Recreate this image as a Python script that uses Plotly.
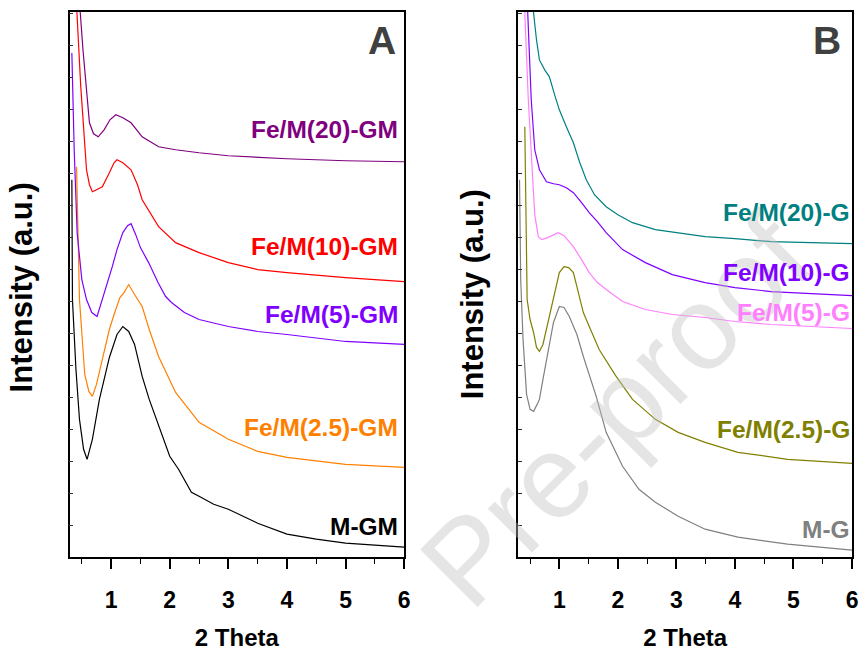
import plotly.graph_objects as go

# ---------------- Panel A data ----------------
a_names = ["M-GM", "Fe/M(2.5)-GM", "Fe/M(5)-GM", "Fe/M(10)-GM", "Fe/M(20)-GM"]
a_colors = ["#000000", "#ff8000", "#8000ff", "#ff0000", "#800080"]

a_mgm_x = [0.33, 0.34, 0.40, 0.46, 0.53, 0.59, 0.68, 0.80, 0.97, 1.10, 1.20, 1.30, 1.40, 1.53, 1.65,
           1.81, 2.0, 2.15, 2.37, 2.5, 2.75, 3.0, 3.5, 4.0, 4.5, 5.0, 5.5, 6.0]
a_mgm_y = [378, 258, 188, 138, 108, 98, 118, 158, 200, 223, 231, 226, 213, 181, 158,
           131, 101, 88, 65, 61, 53, 48, 34, 23, 18, 14, 12, 10]

a_25_x = [0.41, 0.46, 0.55, 0.62, 0.68, 0.75, 0.85, 0.97, 1.05, 1.15, 1.22, 1.30, 1.40, 1.53, 1.65,
          1.81, 2.1, 2.5, 3.0, 3.5, 4.0, 5.0, 6.0]
a_25_y = [391, 258, 183, 166, 161, 173, 198, 228, 243, 260, 265, 273, 263, 251, 228,
          201, 165, 135, 118, 106, 100, 93, 90]

a_5_x = [0.33, 0.37, 0.42, 0.50, 0.58, 0.67, 0.76, 0.85, 0.95, 1.02, 1.10, 1.20, 1.28, 1.34, 1.42,
         1.50, 1.64, 1.80, 1.93, 2.03, 2.25, 2.5, 3.0, 3.5, 4.0, 5.0, 6.0]
a_5_y = [505, 408, 325, 278, 258, 245, 241, 258, 278, 291, 308, 325, 332, 334, 323,
         310, 295, 275, 261, 255, 245, 238, 231, 226, 223, 216, 213]

a_10_x = [0.40, 0.41, 0.48, 0.55, 0.58, 0.63, 0.68, 0.75, 0.85, 0.97, 1.05, 1.10, 1.20, 1.34, 1.45,
          1.53, 1.81, 2.1, 2.5, 3.0, 3.5, 4.0, 5.0, 6.0]
a_10_y = [568, 553, 473, 408, 388, 373, 366, 368, 371, 385, 395, 398, 395, 388, 373,
          358, 331, 315, 305, 295, 288, 285, 280, 276]

a_20_x = [0.46, 0.47, 0.52, 0.58, 0.63, 0.70, 0.78, 0.88, 0.98, 1.08, 1.20, 1.34, 1.53, 1.81, 2.1,
          2.5, 3.0, 4.0, 5.0, 6.0]
a_20_y = [568, 548, 508, 465, 435, 424, 421, 428, 438, 443, 440, 435, 421, 411, 408,
          405, 402, 399, 397, 396]

a_label_y = [31, 130, 243, 311, 428]

# ---------------- Panel B data ----------------
b_names = ["M-G", "Fe/M(2.5)-G", "Fe/M(5)-G", "Fe/M(10)-G", "Fe/M(20)-G"]
b_colors = ["#808080", "#808000", "#ff80ff", "#8000ff", "#008080"]

b_mg_x = [0.32, 0.34, 0.38, 0.44, 0.50, 0.56, 0.62, 0.66, 0.72, 0.78, 0.9, 1.0, 1.08, 1.17, 1.30,
          1.41, 1.52, 1.63, 1.8, 2.08, 2.36, 2.64, 3.03, 3.49, 4.05, 4.9, 6.0]
b_mg_y = [378, 278, 218, 163, 148, 146, 153, 158, 178, 198, 235, 251, 250, 241, 223,
          201, 181, 161, 125, 91, 68, 55, 41, 28, 20, 13, 7]

b_25_x = [0.41, 0.43, 0.45, 0.50, 0.56, 0.61, 0.66, 0.72, 0.78, 0.85, 0.90, 1.0, 1.08, 1.16, 1.24,
          1.32, 1.41, 1.46, 1.68, 1.97, 2.25, 2.64, 3.03, 3.49, 4.05, 4.9, 6.0]
b_25_y = [431, 308, 258, 238, 225, 210, 206, 213, 228, 248, 258, 285, 291, 290, 285,
          266, 245, 238, 208, 181, 158, 138, 125, 115, 105, 98, 94]

b_5_x = [0.40, 0.41, 0.47, 0.53, 0.58, 0.64, 0.70, 0.80, 0.90, 0.98, 1.08, 1.24, 1.38, 1.51, 1.65,
         1.80, 2.08, 2.47, 2.93, 3.49, 4.0, 4.62, 5.3, 6.0]
b_5_y = [568, 545, 458, 388, 343, 321, 318, 320, 323, 325, 322, 311, 298, 285, 275,
         268, 256, 248, 243, 240, 236, 233, 231, 229]

b_10_x = [0.45, 0.46, 0.52, 0.58, 0.66, 0.78, 0.9, 1.0, 1.12, 1.24, 1.38, 1.51, 1.65, 1.80, 2.08,
          2.47, 2.93, 3.49, 4.0, 4.62, 5.3, 6.0]
b_10_y = [568, 545, 458, 408, 388, 376, 374, 373, 370, 365, 355, 345, 336, 325, 308,
          295, 283, 275, 270, 266, 264, 262]

b_20_x = [0.55, 0.56, 0.61, 0.66, 0.75, 0.83, 0.92, 1.0, 1.12, 1.24, 1.35, 1.46, 1.60, 1.80, 2.0,
          2.25, 2.64, 3.0, 3.49, 4.0, 4.62, 5.3, 6.0]
b_20_y = [568, 545, 518, 498, 488, 481, 463, 448, 431, 415, 395, 378, 363, 351, 343,
          335, 328, 325, 321, 319, 316, 315, 314]

b_label_y = [28, 128, 245, 285, 345]

x_ticks = [1, 2, 3, 4, 5, 6]

# ---------------- Figure ----------------
FONT = "Liberation Sans, Arial, sans-serif"
fig = go.Figure()

a_series = [(a_mgm_x, a_mgm_y), (a_25_x, a_25_y), (a_5_x, a_5_y), (a_10_x, a_10_y), (a_20_x, a_20_y)]
b_series = [(b_mg_x, b_mg_y), (b_25_x, b_25_y), (b_5_x, b_5_y), (b_10_x, b_10_y), (b_20_x, b_20_y)]

for (xs, ys), name, col in zip(a_series, a_names, a_colors):
    fig.add_trace(go.Scatter(x=xs, y=ys, mode="lines", name=name,
                             line=dict(color=col, width=1.2), xaxis="x", yaxis="y",
                             showlegend=False))
for (xs, ys), name, col in zip(b_series, b_names, b_colors):
    fig.add_trace(go.Scatter(x=xs, y=ys, mode="lines", name=name,
                             line=dict(color=col, width=1.2), xaxis="x2", yaxis="y2",
                             showlegend=False))

W, H = 861, 651
yd = [1 - 558 / H, 1 - 12 / H]

def xaxis_cfg(domain, rng, anchor):
    return dict(domain=domain, range=rng, anchor=anchor, tickvals=x_ticks,
                ticks="outside", ticklen=10, tickwidth=1.5, tickcolor="black",
                showline=True, linecolor="black", linewidth=1.5, mirror=True,
                showgrid=False, zeroline=False,
                tickfont=dict(family=FONT, size=23, color="black", weight="bold"),
                ticklabelstandoff=12,
                minor=dict(dtick=0.5, tick0=0.5, ticks="outside", ticklen=5,
                           tickwidth=1.2, tickcolor="black", showgrid=False),
                title=dict(text="<b>2 Theta</b>", font=dict(family=FONT, size=24, color="black"),
                           standoff=21))

def yaxis_cfg(anchor):
    return dict(domain=yd, range=[0, 546], anchor=anchor, dtick=32, tick0=0,
                ticks="inside", ticklen=4, tickwidth=1, tickcolor="#333",
                showticklabels=False, showline=True, linecolor="black", linewidth=1.5,
                mirror=True, showgrid=False, zeroline=False)

fig.update_layout(
    width=W, height=H, margin=dict(l=0, r=0, t=0, b=0),
    paper_bgcolor="white", plot_bgcolor="white",
    xaxis=xaxis_cfg([70 / W, 407 / W], [0.29, 6.0], "y"),
    yaxis=yaxis_cfg("x"),
    xaxis2=xaxis_cfg([522 / W, 858 / W], [0.30, 6.0], "y2"),
    yaxis2=yaxis_cfg("x2"),
)

ann = []
# watermark (drawn first, semi-transparent), kept fully inside the page
ann.append(dict(x=620 / W, y=1 - 412 / H, xref="paper", yref="paper",
                text="Pre-proof", textangle=-45, showarrow=False,
                xanchor="center", yanchor="middle",
                font=dict(family=FONT, size=118, color="rgba(190,190,190,0.4)")))
for name, col, yv in zip(a_names, a_colors, a_label_y):
    ann.append(dict(x=5.93, y=yv, xref="x", yref="y", text="<b>%s</b>" % name,
                    xanchor="right", yanchor="middle", showarrow=False,
                    font=dict(family=FONT, size=24.5, color=col)))
for name, col, yv in zip(b_names, b_colors, b_label_y):
    ann.append(dict(x=6.0, y=yv, xref="x2", yref="y2", text="<b>%s</b>" % name,
                    xanchor="right", yanchor="middle", showarrow=False,
                    font=dict(family=FONT, size=24.5, color=col)))
ann.append(dict(x=5.63, y=517, xref="x", yref="y", text="<b>A</b>", showarrow=False,
                xanchor="center", yanchor="middle",
                font=dict(family=FONT, size=39, color="#404040")))
ann.append(dict(x=5.58, y=517, xref="x2", yref="y2", text="<b>B</b>", showarrow=False,
                xanchor="center", yanchor="middle",
                font=dict(family=FONT, size=39, color="#404040")))
ann.append(dict(x=22 / W, y=1 - 288 / H, xref="paper", yref="paper",
                text="<b>Intensity (a.u.)</b>", textangle=-90, showarrow=False,
                xanchor="center", yanchor="middle",
                font=dict(family=FONT, size=31, color="black")))
ann.append(dict(x=476 / W, y=1 - 295 / H, xref="paper", yref="paper",
                text="<b>Intensity (a.u.)</b>", textangle=-90, showarrow=False,
                xanchor="center", yanchor="middle",
                font=dict(family=FONT, size=31, color="black")))
fig.update_layout(annotations=ann)

fig.write_html("out.html")
